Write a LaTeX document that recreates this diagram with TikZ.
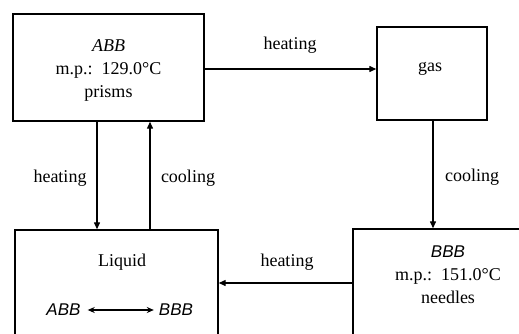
\documentclass[tikz,border=0pt]{standalone}
\usepackage{fontspec}
\setmainfont{Liberation Serif}
\newfontfamily\altsans{Liberation Sans}
\usetikzlibrary{arrows.meta}
\begin{document}
\begin{tikzpicture}[x=1pt,y=-1pt,
  box/.style={draw,line width=1.4pt,rectangle,inner sep=0pt},
  lbl/.style={font=\fontsize{18}{23}\selectfont,inner sep=0pt,align=center},
  slbl/.style={font=\altsans\itshape\fontsize{17}{19}\selectfont,inner sep=0pt},
  conn/.style={line width=1.3pt,-{Triangle[length=7pt,width=6pt]}},
  dbl/.style={line width=1.2pt,{Stealth[length=7pt,width=6pt]}-{Stealth[length=7pt,width=6pt]}}]
\useasboundingbox (0,0) rectangle (519,333);
\clip (0,0) rectangle (519,333);
% boxes
\node[box,minimum width=191pt,minimum height=107pt] (abb) at (108.5,67.5) {};
\node[box,minimum width=110pt,minimum height=93pt] (gas) at (432,73.5) {};
\node[box,minimum width=203pt,minimum height=140pt] (liq) at (116.5,300) {};
\node[box,minimum width=207pt,minimum height=141pt] (bbb) at (456.5,299.5) {};
% box texts
\node[lbl] (abbt) at (108.5,70) {\textit{ABB}\\m.p.:\ \ 129.0°C\\prisms};
\node[lbl] (gast) at (430,69) {gas};
\node[lbl] (liqt) at (122,262) {Liquid};
\node[slbl] (la) at (63.5,310) {ABB};
\node[slbl] (lb) at (176,310) {BBB};
\draw[dbl] ([xshift=7pt]la.east) -- ([xshift=-5pt]lb.west);
\node[lbl] (bbbt) at (448,275) {{\altsans\itshape\fontsize{17}{19}\selectfont BBB}\\m.p.:\ \ 151.0°C\\needles};
% helper coordinates
\coordinate (y1) at (0,69);
\coordinate (y2) at (0,283);
\coordinate (xh) at (97,0);
\coordinate (xc) at (150,0);
\coordinate (xg) at (433,0);
% connectors
\draw[conn] (abb.east |- y1) -- (gas.west |- y1);
\draw[conn] (abb.south -| xh) -- (liq.north -| xh);
\draw[conn] (liq.north -| xc) -- (abb.south -| xc);
\draw[conn] (gas.south -| xg) -- (bbb.north -| xg);
\draw[conn] (bbb.west |- y2) -- (liq.east |- y2);
% connector labels
\node[lbl] (l1) at (290,45) {heating};
\node[lbl] (l2) at (60,178) {heating};
\node[lbl] (l3) at (188,178) {cooling};
\node[lbl] (l4) at (472,177) {cooling};
\node[lbl] (l5) at (287,262) {heating};
\end{tikzpicture}
\end{document}
